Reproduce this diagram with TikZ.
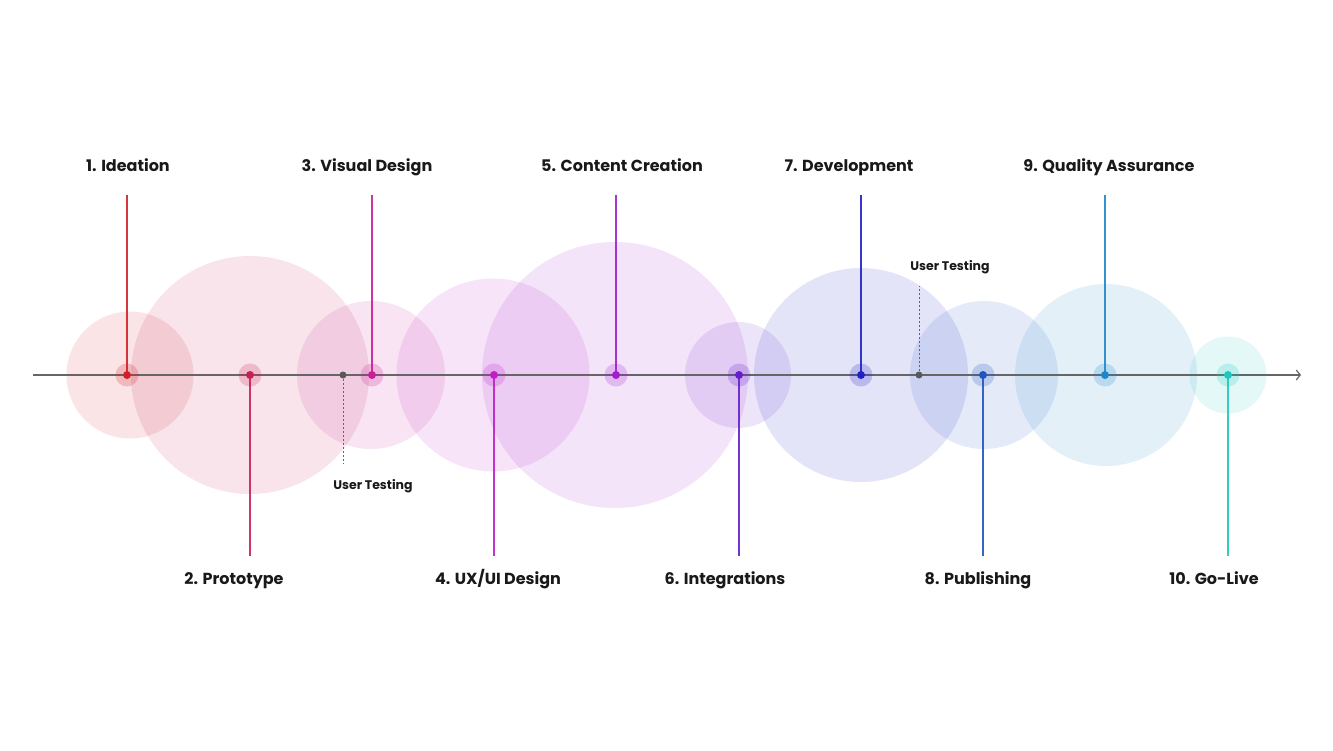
\documentclass[tikz,border=0pt]{standalone}
\usepackage{fontspec}
\setmainfont{Poppins}
\usetikzlibrary{arrows.meta,positioning}

\definecolor{ideation}{RGB}{210,32,40}
\definecolor{prototype}{RGB}{200,32,84}
\definecolor{visual}{RGB}{200,30,150}
\definecolor{uxui}{RGB}{190,30,200}
\definecolor{content}{RGB}{160,30,205}
\definecolor{integr}{RGB}{100,30,205}
\definecolor{develop}{RGB}{32,32,200}
\definecolor{publish}{RGB}{32,84,195}
\definecolor{quality}{RGB}{30,135,200}
\definecolor{golive}{RGB}{30,200,190}

\begin{document}
\begin{tikzpicture}[x=1pt,y=-1pt,>={Straight Barb[length=4pt,width=10pt]}]
  \tikzset{zone/.style={circle,fill=#1,fill opacity=.12,inner sep=0pt}}
  \tikzset{halo/.style={circle,fill=#1,fill opacity=.22,minimum size=23pt,inner sep=0pt}}
  \tikzset{stage/.style={circle,fill=#1,minimum size=8pt,inner sep=0pt}}
  \tikzset{stem/.style={draw=#1,draw opacity=.9,line width=1.2pt}}
  \tikzset{tester/.style={circle,fill=black!65,minimum size=7pt,inner sep=0pt}}
  \tikzset{probe/.style={draw=black!60,dash pattern=on 2pt off 2pt,line width=.9pt}}
  \tikzset{axis/.style={draw=black!60,line width=1.2pt}}
  \tikzset{steplabel/.style={anchor=base,inner sep=0pt,font=\bfseries\fontsize{16}{18}\selectfont,text=black!90}}
  \tikzset{testlabel/.style={anchor=base,inner sep=0pt,font=\bfseries\fontsize{12.5}{14}\selectfont,text=black!90}}
  \useasboundingbox (0,0) rectangle (1333,750);

  % coloured areas
  \node[zone=ideation,minimum size=127pt]  (z1)  at (130,375) {};
  \node[zone=prototype,minimum size=238pt] (z2)  at (250,375) {};
  \node[zone=visual,minimum size=148pt]    (z3)  at (371,375) {};
  \node[zone=uxui,minimum size=193pt]      (z4)  at (493,375) {};
  \node[zone=content,minimum size=266pt]   (z5)  at (615,375) {};
  \node[zone=integr,minimum size=106pt]    (z6)  at (738,375) {};
  \node[zone=develop,minimum size=214pt]   (z7)  at (861,375) {};
  \node[zone=publish,minimum size=148pt]   (z8)  at (984,375) {};
  \node[zone=quality,minimum size=182pt]   (z9)  at (1106,375) {};
  \node[zone=golive,minimum size=77pt]     (z10) at (1228,375) {};

  \coordinate (start) at (33,375);
  \coordinate (end)   at (1301,375);
  \coordinate (top)   at (0,195);
  \coordinate (bot)   at (0,556);
  \draw[axis,->] (start) -- (end);

  % stages
  \node[halo=ideation]  (h1)  at (127,375)  {};
  \node[halo=prototype] (h2)  at (250,375)  {};
  \node[halo=visual]    (h3)  at (372,375)  {};
  \node[halo=uxui]      (h4)  at (494,375)  {};
  \node[halo=content]   (h5)  at (616,375)  {};
  \node[halo=integr]    (h6)  at (739,375)  {};
  \node[halo=develop]   (h7)  at (861,375)  {};
  \node[halo=publish]   (h8)  at (983,375)  {};
  \node[halo=quality]   (h9)  at (1105,375) {};
  \node[halo=golive]    (h10) at (1228,375) {};

  \draw[stem=ideation]  (h1.center)  -- (h1 |- top);
  \draw[stem=prototype] (h2.center)  -- (h2 |- bot);
  \draw[stem=visual]    (h3.center)  -- (h3 |- top);
  \draw[stem=uxui]      (h4.center)  -- (h4 |- bot);
  \draw[stem=content]   (h5.center)  -- (h5 |- top);
  \draw[stem=integr]    (h6.center)  -- (h6 |- bot);
  \draw[stem=develop]   (h7.center)  -- (h7 |- top);
  \draw[stem=publish]   (h8.center)  -- (h8 |- bot);
  \draw[stem=quality]   (h9.center)  -- (h9 |- top);
  \draw[stem=golive]    (h10.center) -- (h10 |- bot);

  \node[stage=ideation]  (s1)  at (h1)  {};
  \node[stage=prototype] (s2)  at (h2)  {};
  \node[stage=visual]    (s3)  at (h3)  {};
  \node[stage=uxui]      (s4)  at (h4)  {};
  \node[stage=content]   (s5)  at (h5)  {};
  \node[stage=integr]    (s6)  at (h6)  {};
  \node[stage=develop]   (s7)  at (h7)  {};
  \node[stage=publish]   (s8)  at (h8)  {};
  \node[stage=quality]   (s9)  at (h9)  {};
  \node[stage=golive]    (s10) at (h10) {};

  \node[steplabel] (l1)  at (128,171)  {1. Ideation};
  \node[steplabel] (l2)  at (234,584)  {2. Prototype};
  \node[steplabel] (l3)  at (367,171)  {3. Visual Design};
  \node[steplabel] (l4)  at (498,584)  {4. UX/UI Design};
  \node[steplabel] (l5)  at (622,171)  {5. Content Creation};
  \node[steplabel] (l6)  at (725,584)  {6. Integrations};
  \node[steplabel] (l7)  at (849,171)  {7. Development};
  \node[steplabel] (l8)  at (978,584)  {8. Publishing};
  \node[steplabel] (l9)  at (1109,171) {9. Quality Assurance};
  \node[steplabel] (l10) at (1214,584) {10. Go-Live};

  % user testing
  \node[tester] (u1) at (343,375) {};
  \node[tester] (u2) at (919,375) {};
  \coordinate (p1) at (343,463);
  \coordinate (p2) at (919,286);
  \draw[probe] (u1) -- (p1);
  \draw[probe] (u2) -- (p2);
  \node[testlabel] (t1) at (373,489) {User Testing};
  \node[testlabel] (t2) at (950,270) {User Testing};
\end{tikzpicture}
\end{document}
